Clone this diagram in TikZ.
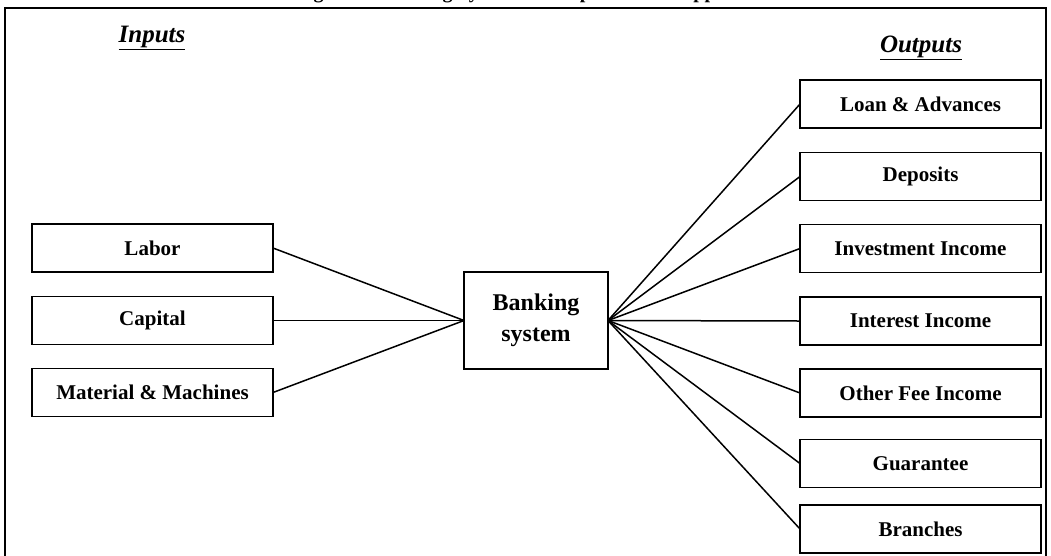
\documentclass[tikz,border=0pt]{standalone}
\usepackage{fontspec}
\setmainfont{Liberation Serif}
\begin{document}
\begin{tikzpicture}[x=1pt,y=-1pt,
  every node/.style={inner sep=0pt, outer sep=0pt},
  ibox/.style={draw, line width=1.5pt, minimum width=241pt, minimum height=48pt, font=\bfseries\fontsize{21}{24}\selectfont},
  cbox/.style={draw, line width=1.5pt, minimum width=144pt, minimum height=97pt, align=center, font=\bfseries\fontsize{24}{31}\selectfont},
  hdr/.style={font=\bfseries\itshape\fontsize{25}{28}\selectfont},
  conn/.style={line width=1.5pt}]
\useasboundingbox (0,0) rectangle (1051,555);
% title (cut off at top edge, as in the reference)
\node[anchor=base, font=\bfseries\fontsize{20}{24}\selectfont] (title) at (530,-1.5) {Figure 1: Banking System under production Approach};
% frame
\draw[line width=1.6pt] (1046,570) -- (1046,8) -- (5,8) -- (5,570);
% headers
\node[hdr, anchor=base] (inp) at (152,42) {\underline{Inputs}};
\node[hdr, anchor=base] (outp) at (921,52) {\underline{Outputs}};
% inputs
\node[ibox] (labor) at (152.5,248) {Labor};
\node[ibox] (capital) at (152.5,320.5) {Capital};
\node[ibox] (material) at (152.5,392.5) {Material \& Machines};
% center
\node[cbox] (bank) at (536,320.5) {Banking\\system};
% outputs
\node[ibox] (loan) at (920.5,104) {Loan \& Advances};
\node[ibox] (dep) at (920.5,176.5) {Deposits};
\node[ibox] (inv) at (920.5,248.5) {Investment Income};
\node[ibox] (int) at (920.5,321) {Interest Income};
\node[ibox] (fee) at (920.5,393) {Other Fee Income};
\node[ibox] (guar) at (920.5,463.5) {Guarantee};
\node[ibox] (br) at (920.5,529) {Branches};
% connectors
\foreach \n in {labor,capital,material} \draw[conn] (\n.east) -- (bank.west);
\foreach \n in {loan,dep,inv,int,fee,guar,br} \draw[conn] (bank.east) -- (\n.west);
\end{tikzpicture}
\end{document}
